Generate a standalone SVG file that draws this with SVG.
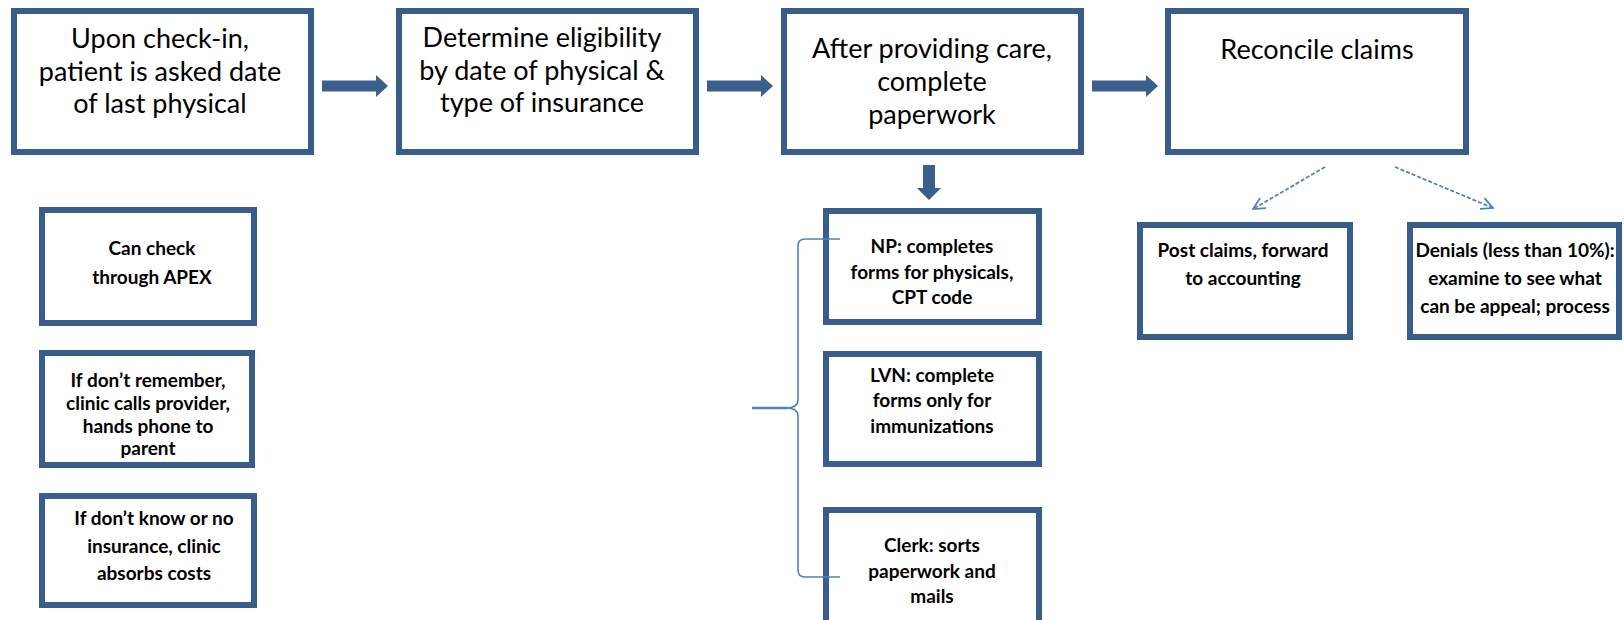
<svg xmlns="http://www.w3.org/2000/svg" width="1624" height="620" viewBox="0 0 1624 620">
<defs>
<style>
.box{fill:#ffffff;stroke:#385d8a;stroke-width:6}
.big{font-family:Lato,"Liberation Sans",sans-serif;font-size:27px;fill:#000;text-anchor:middle}
.sm{font-family:Lato,"Liberation Sans",sans-serif;font-size:19px;font-weight:bold;fill:#000;text-anchor:middle}
.arr{fill:#3b5f8d}
.thin{fill:none;stroke:#4f81bd;stroke-width:1.6}
.dash{fill:none;stroke:#4f81bd;stroke-width:1.8;stroke-dasharray:4 2}
</style>
<marker id="chev" viewBox="0 0 12 12" refX="11" refY="6" markerWidth="14" markerHeight="14" markerUnits="userSpaceOnUse" orient="auto">
<path d="M1,1 L11,6 L1,11" fill="none" stroke="#4f81bd" stroke-width="1.5"/>
</marker>
</defs>
<rect width="1624" height="620" fill="#ffffff"/>

<g id="n1"><rect class="box" x="14" y="11" width="297" height="141"/>
<text class="big" x="160" y="48">Upon check-in,</text>
<text class="big" x="160" y="81">patient is asked date</text>
<text class="big" x="160" y="113">of last physical</text></g>

<g id="n2"><rect class="box" x="399" y="11" width="297" height="141"/>
<text class="big" x="542" y="47">Determine eligibility</text>
<text class="big" x="542" y="80">by date of physical &amp;</text>
<text class="big" x="542" y="112">type of insurance</text></g>

<g id="n3"><rect class="box" x="784" y="11" width="297" height="141"/>
<text class="big" x="932" y="58">After providing care,</text>
<text class="big" x="932" y="91">complete</text>
<text class="big" x="932" y="124">paperwork</text></g>

<g id="n4"><rect class="box" x="1168" y="11" width="298" height="141"/>
<text class="big" x="1317" y="59">Reconcile claims</text></g>

<g id="a1"><rect class="box" x="42" y="210" width="212" height="113"/>
<text class="sm" x="152" y="255">Can check</text>
<text class="sm" x="152" y="284">through APEX</text></g>

<g id="a2"><rect class="box" x="42" y="353" width="210" height="112"/>
<text class="sm" x="148" y="387">If don’t remember,</text>
<text class="sm" x="148" y="410">clinic calls provider,</text>
<text class="sm" x="148" y="433">hands phone to</text>
<text class="sm" x="148" y="455">parent</text></g>

<g id="a3"><rect class="box" x="42" y="496" width="212" height="109"/>
<text class="sm" x="154" y="525">If don’t know or no</text>
<text class="sm" x="154" y="553">insurance, clinic</text>
<text class="sm" x="154" y="580">absorbs costs</text></g>

<g id="c1"><rect class="box" x="826" y="211" width="213" height="111"/>
<text class="sm" x="932" y="253">NP: completes</text>
<text class="sm" x="932" y="279">forms for physicals,</text>
<text class="sm" x="932" y="304">CPT code</text></g>

<g id="c2"><rect class="box" x="826" y="354" width="213" height="110"/>
<text class="sm" x="932" y="382">LVN: complete</text>
<text class="sm" x="932" y="407">forms only for</text>
<text class="sm" x="932" y="433">immunizations</text></g>

<g id="c3"><rect class="box" x="826" y="510" width="213" height="120"/>
<text class="sm" x="932" y="552">Clerk: sorts</text>
<text class="sm" x="932" y="578">paperwork and</text>
<text class="sm" x="932" y="603">mails</text></g>

<g id="r1"><rect class="box" x="1140" y="225" width="210" height="112"/>
<text class="sm" x="1243" y="257">Post claims, forward</text>
<text class="sm" x="1243" y="285">to accounting</text></g>

<g id="r2"><rect class="box" x="1410" y="225" width="209" height="112"/>
<text class="sm" x="1515" y="257">Denials (less than 10%):</text>
<text class="sm" x="1515" y="285">examine to see what</text>
<text class="sm" x="1515" y="313">can be appeal; process</text></g>

<g id="connectors">
<polygon class="arr" points="322,80.5 376,80.5 376,75 388,86 376,97 376,91.5 322,91.5"/>
<polygon class="arr" points="707,80.5 761,80.5 761,75 773,86 761,97 761,91.5 707,91.5"/>
<polygon class="arr" points="1092,80.5 1146,80.5 1146,75 1158,86 1146,97 1146,91.5 1092,91.5"/>
<polygon class="arr" points="923,165 935,165 935,188 941,188 929,200 917,188 923,188"/>
<path class="thin" d="M840,239 H805 Q798,239 798,246 V400 Q798,408 786,408 Q798,408 798,416 V570 Q798,577 805,577 H840"/>
<line x1="752" y1="408" x2="787" y2="408" stroke="#4f81bd" stroke-width="2.5"/>
<line class="dash" x1="1325" y1="167" x2="1253" y2="209" marker-end="url(#chev)"/>
<line class="dash" x1="1395" y1="167" x2="1493" y2="208" marker-end="url(#chev)"/>
</g>
</svg>
